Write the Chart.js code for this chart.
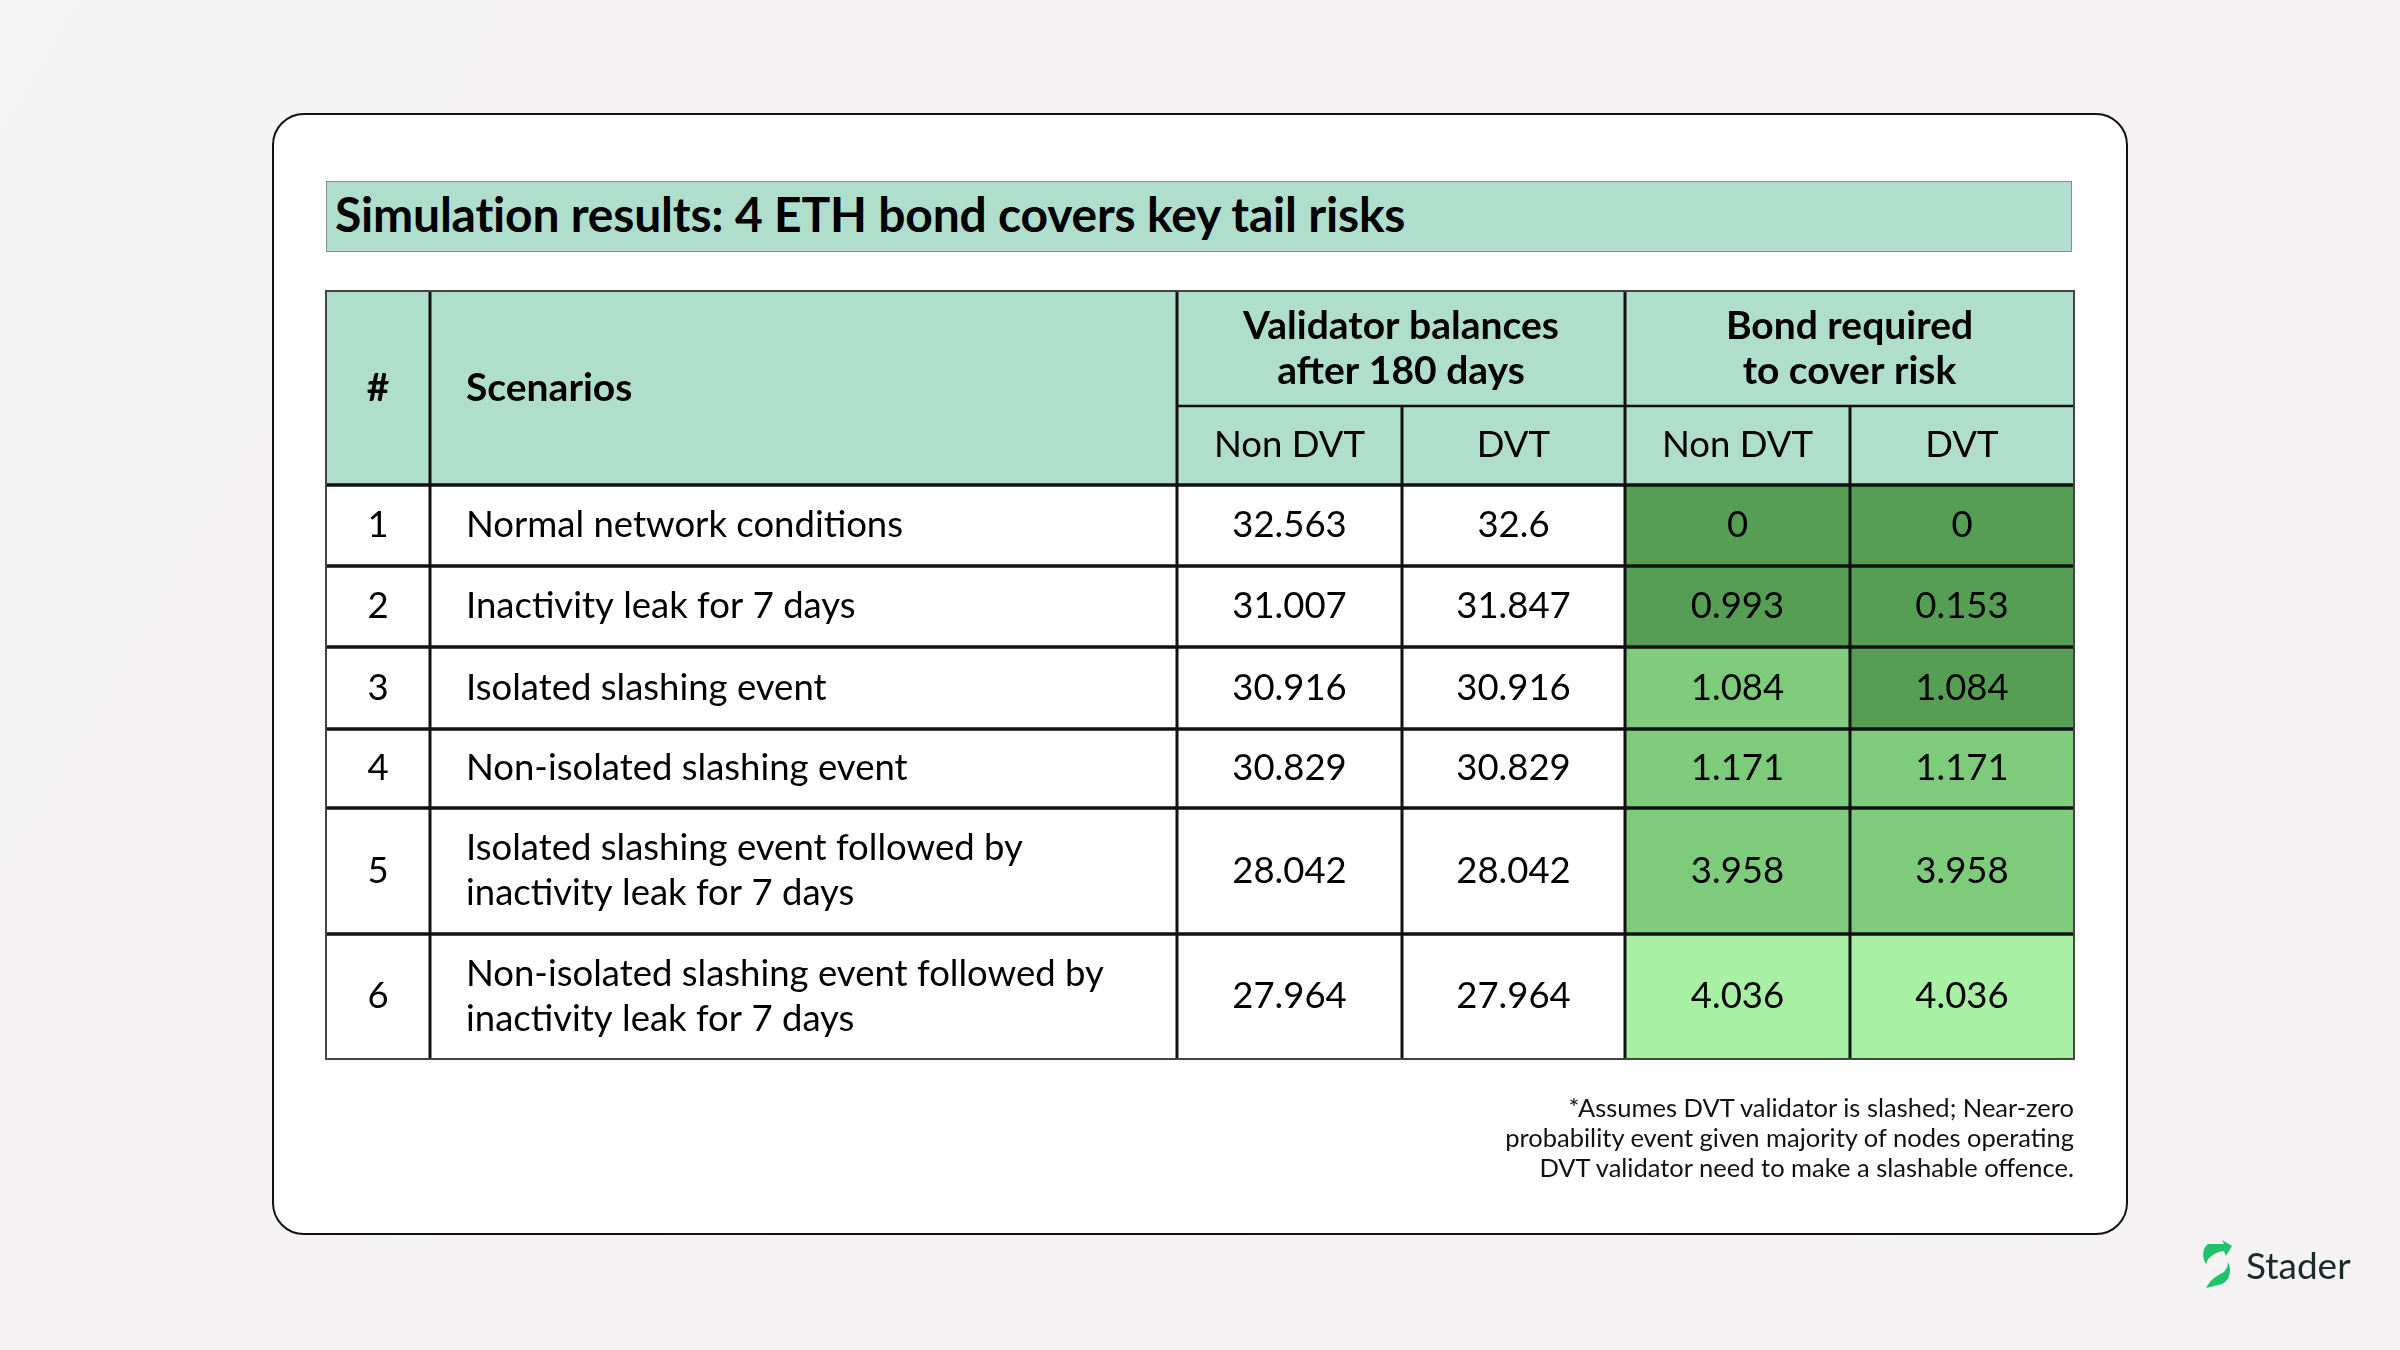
<!DOCTYPE html>
<html lang="en">
<head>
  <meta charset="UTF-8">
  <title>Simulation results: 4 ETH bond covers key tail risks</title>
  <script src="https://cdn.jsdelivr.net/npm/chart.js"></script>
  <style>
    html, body {
      margin: 0;
      width: 2400px;
      height: 1350px;
      overflow: hidden;
      font-family: Lato, "Open Sans", sans-serif;
      background: linear-gradient(120deg, #f5f5f6 0%, #f6f1f2 55%, #f5f3f4 100%);
    }
    #card {
      position: absolute;
      left: 272px; top: 113px;
      width: 1852px; height: 1118px;
      background: #fff;
      border: 2px solid #111;
      border-radius: 32px;
    }
    #title {
      position: absolute;
      left: 326px; top: 181px;
      width: 1746px; height: 71px;
      background: #b0decc;
      border: 1.5px solid #8a8a8a;
      box-sizing: border-box;
      font-weight: 700;
      font-size: 48px;
      line-height: 64px;
      padding-left: 8px;
      color: #000;
      letter-spacing: -0.2px;
    }
    #grafica {
      position: absolute;
      left: 0; top: 0;
    }
    #nota {
      position: absolute;
      right: 326px; top: 1092px;
      text-align: right;
      font-size: 25.5px;
      line-height: 30px;
      color: #111;
    }
    #logo {
      position: absolute;
      left: 2202px; top: 1240px;
      display: flex;
      align-items: center;
      gap: 14px;
      font-size: 37px;
      color: #1b2a2a;
    }
  </style>
</head>
<body>
  <div id="card"></div>
  <div id="title">Simulation results: 4 ETH bond covers key tail risks</div>
  <canvas id="grafica" width="2400" height="1350"></canvas>
  <div id="nota">*Assumes DVT validator is slashed; Near-zero<br>probability event given majority of nodes operating<br>DVT validator need to make a slashable offence.</div>
  <div id="logo">
    <svg width="30" height="48" viewBox="0 0 30 48">
      <path d="M6 4 L22 4 L20 0 L30 6 L24 16 L22 11 C14 12 6 16 4 24 C0 18 0 8 6 4 Z" fill="#1fc36a"/>
      <path d="M26 22 C30 30 28 40 20 44 L4 48 C8 40 14 36 22 32 C25 29 26 25 26 22 Z" fill="#1fc36a"/>
    </svg>
    <span>Stader</span>
  </div>

  <script>
    // datos de la tabla
    const ids = ['1', '2', '3', '4', '5', '6'];
    const escenarios = [
      ['Normal network conditions'],
      ['Inactivity leak for 7 days'],
      ['Isolated slashing event'],
      ['Non-isolated slashing event'],
      ['Isolated slashing event followed by', 'inactivity leak for 7 days'],
      ['Non-isolated slashing event followed by', 'inactivity leak for 7 days']
    ];
    const balanceNonDvt = [32.563, 31.007, 30.916, 30.829, 28.042, 27.964];
    const balanceDvt = [32.6, 31.847, 30.916, 30.829, 28.042, 27.964];
    const bondNonDvt = [0, 0.993, 1.084, 1.171, 3.958, 4.036];
    const bondDvt = [0, 0.153, 1.084, 1.171, 3.958, 4.036];
    // nivel de color de cada celda de bond (0 oscuro, 1 medio, 2 claro)
    const nivelNonDvt = [0, 0, 1, 1, 1, 2];
    const nivelDvt = [0, 0, 0, 1, 1, 2];

    const cabeceras = ['#', 'Scenarios'];
    const grupos = [['Validator balances', 'after 180 days'], ['Bond required', 'to cover risk']];
    const subCabeceras = ['Non DVT', 'DVT', 'Non DVT', 'DVT'];

    // layout (unidades de las escalas)
    const anchos = [104, 747, 225, 223, 225, 224];
    const altos = [115, 79, 81, 81, 82, 79, 126, 125];
    const bordesX = anchos.reduce((a, w) => { a.push(a[a.length - 1] + w); return a; }, [0]);
    const bordesY = altos.reduce((a, h) => { a.push(a[a.length - 1] + h); return a; }, [0]);

    const verdes = ['#559e54', '#7ecb7b', '#a8f0a4'];
    const colorCabecera = '#b0decc';

    const tablaPlugin = {
      id: 'tabla',
      beforeDatasetsDraw(chart) {
        const ctx = chart.ctx;
        const sx = chart.scales.x, sy = chart.scales.y;
        const px = v => sx.getPixelForValue(v);
        const py = v => sy.getPixelForValue(v);

        function celda(c0, c1, r0, r1, color) {
          ctx.fillStyle = color;
          ctx.fillRect(px(bordesX[c0]), py(bordesY[r0]), px(bordesX[c1]) - px(bordesX[c0]), py(bordesY[r1]) - py(bordesY[r0]));
        }
        function texto(lineas, x, yc, font, align) {
          ctx.font = font;
          ctx.fillStyle = '#000';
          ctx.textAlign = align || 'center';
          ctx.textBaseline = 'middle';
          const lh = 45;
          const y0 = yc - (lineas.length - 1) * lh / 2;
          lineas.forEach((t, i) => ctx.fillText(t, x, y0 + i * lh));
        }
        const midX = (c0, c1) => (px(bordesX[c0]) + px(bordesX[c1])) / 2;
        const midY = (r0, r1) => (py(bordesY[r0]) + py(bordesY[r1])) / 2;

        ctx.save();
        // cabecera
        celda(0, 6, 0, 2, colorCabecera);
        // filas
        for (let i = 0; i < ids.length; i++) {
          const r = i + 2;
          celda(0, 4, r, r + 1, '#ffffff');
          celda(4, 5, r, r + 1, verdes[nivelNonDvt[i]]);
          celda(5, 6, r, r + 1, verdes[nivelDvt[i]]);
        }

        // lineas
        ctx.strokeStyle = '#111';
        function linea(x0, y0, x1, y1, w) {
          ctx.lineWidth = w;
          ctx.beginPath();
          ctx.moveTo(x0, y0);
          ctx.lineTo(x1, y1);
          ctx.stroke();
        }
        const L = px(0), R = px(bordesX[6]), T = py(0), B = py(bordesY[bordesY.length - 1]);
        // horizontales
        linea(px(bordesX[2]), py(bordesY[1]), R, py(bordesY[1]), 2.5);
        for (let r = 2; r < bordesY.length - 1; r++) linea(L, py(bordesY[r]), R, py(bordesY[r]), 3.5);
        // verticales
        [1, 2, 4].forEach(c => linea(px(bordesX[c]), T, px(bordesX[c]), B, 3));
        [3, 5].forEach(c => linea(px(bordesX[c]), py(bordesY[1]), px(bordesX[c]), B, 3));
        // borde exterior
        ctx.strokeStyle = '#444';
        ctx.lineWidth = 2;
        ctx.strokeRect(L, T, R - L, B - T);

        // textos de cabecera
        const fb = '700 39px Lato';
        const fn = '400 36.5px Lato';
        texto([cabeceras[0]], midX(0, 1), midY(0, 2), fb);
        texto([cabeceras[1]], px(bordesX[1]) + 36, midY(0, 2), fb, 'left');
        texto(grupos[0], midX(2, 4), midY(0, 1), fb);
        texto(grupos[1], midX(4, 6), midY(0, 1), fb);
        subCabeceras.forEach((t, k) => texto([t], midX(k + 2, k + 3), midY(1, 2), fn));

        // textos de filas
        for (let i = 0; i < ids.length; i++) {
          const r = i + 2, yc = midY(r, r + 1);
          texto([ids[i]], midX(0, 1), yc, fn);
          texto(escenarios[i], px(bordesX[1]) + 36, yc, fn, 'left');
          texto([String(balanceNonDvt[i])], midX(2, 3), yc, fn);
          texto([String(balanceDvt[i])], midX(3, 4), yc, fn);
          texto([String(bondNonDvt[i])], midX(4, 5), yc, fn);
          texto([String(bondDvt[i])], midX(5, 6), yc, fn);
        }
        ctx.restore();
      }
    };

    new Chart(document.getElementById('grafica'), {
      type: 'scatter',
      data: { datasets: [{ data: [] }] },
      options: {
        responsive: false,
        animation: false,
        layout: { padding: { left: 326, top: 291, right: 326, bottom: 291 } },
        plugins: { legend: { display: false }, tooltip: { enabled: false } },
        scales: {
          x: { type: 'linear', display: false, min: 0, max: bordesX[bordesX.length - 1] },
          y: { type: 'linear', display: false, reverse: true, min: 0, max: bordesY[bordesY.length - 1] }
        }
      },
      plugins: [tablaPlugin]
    });
  </script>
</body>
</html>
